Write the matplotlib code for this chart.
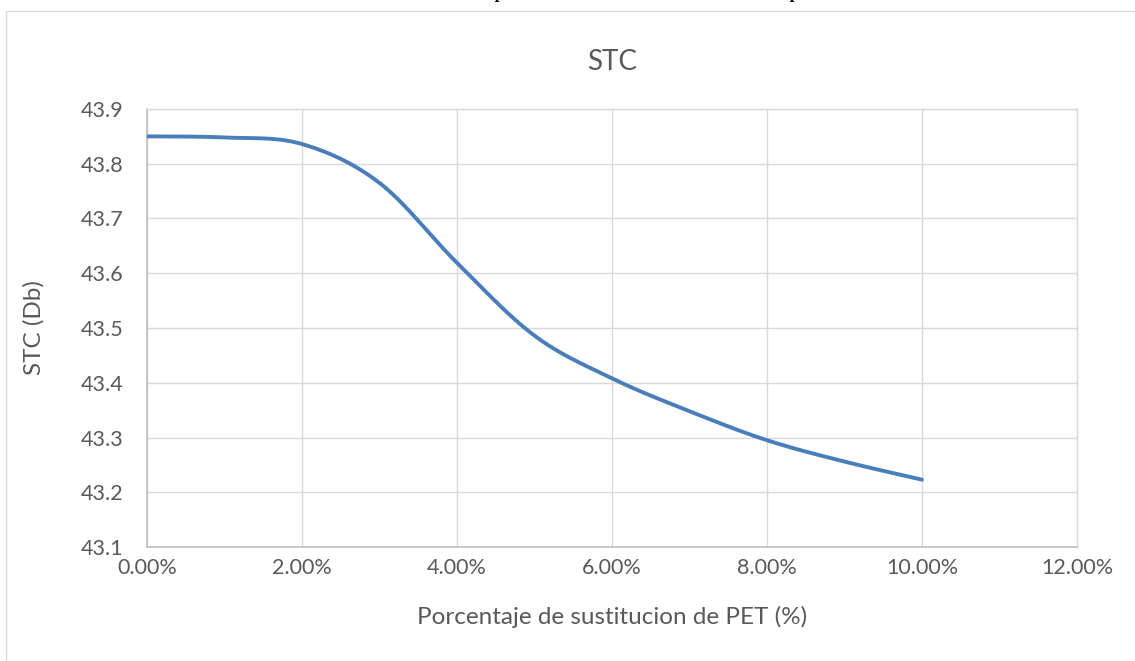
import numpy as np
import matplotlib
matplotlib.use("Agg")
import matplotlib.pyplot as plt
from matplotlib.patches import Rectangle
from matplotlib.ticker import FuncFormatter, MultipleLocator

# STC measured for each PET substitution percentage
pet_pct = [0, 1, 2, 3, 4, 5, 6, 7, 8, 9, 10]
stc_db = [43.850, 43.848, 43.836, 43.765, 43.619, 43.486, 43.408, 43.348, 43.295, 43.256, 43.223]

title = "STC"
x_label = "Porcentaje de sustitucion de PET (%)"
y_label = "STC (Db)"

TEXT = "#595959"
GRID = "#d9d9d9"
AXIS = "#bfbfbf"
LINE = "#4A7EBB"
FONT = ["Lato", "DejaVu Sans"]


def smooth_line(x, y, steps=40):
    """Bezier smoothing in the style of office chart 'smoothed lines'."""
    p = np.column_stack([x, y]).astype(float)
    n = len(p)
    out = [p[:1]]
    t = np.linspace(0, 1, steps)[1:, None]
    for i in range(n - 1):
        prev_pt = p[i - 1] if i > 0 else p[i]
        next_pt = p[i + 2] if i + 2 < n else p[i + 1]
        c1 = p[i] + (p[i + 1] - prev_pt) / 6.0
        c2 = p[i + 1] - (next_pt - p[i]) / 6.0
        seg = ((1 - t) ** 3) * p[i] + 3 * ((1 - t) ** 2) * t * c1 \
            + 3 * (1 - t) * t ** 2 * c2 + t ** 3 * p[i + 1]
        out.append(seg)
    pts = np.vstack(out)
    return pts[:, 0], pts[:, 1]


fig = plt.figure(figsize=(11.35, 6.61), dpi=100)
fig.patch.set_facecolor("white")

# chart frame, continuing past the right and bottom edges
fig.patches.append(Rectangle((6 / 1135, -0.5), 2.0, 1.5 - 10.5 / 661,
                             transform=fig.transFigure, fill=False,
                             edgecolor=GRID, linewidth=1.0))

# caption fragments running above the figure
fig.text(500 / 1135, 1 + 1.5 / 661, "p", fontsize=13, family="Liberation Serif",
         style="italic", weight="bold", ha="center", va="baseline", color="black")
fig.text(795 / 1135, 1 + 1.5 / 661, "p", fontsize=13, family="Liberation Serif",
         style="italic", weight="bold", ha="center", va="baseline", color="black")

ax = fig.add_axes([147 / 1135, 1 - 547 / 661, (1077 - 147) / 1135, (547 - 109) / 661])

xs, ys = smooth_line(pet_pct, stc_db)
ax.plot(np.array(xs) / 100.0, ys, color=LINE, linewidth=2.8,
        solid_capstyle="round", zorder=3)

ax.set_xlim(0, 0.12)
ax.set_ylim(43.1, 43.9)
ax.xaxis.set_major_locator(MultipleLocator(0.02))
ax.yaxis.set_major_locator(MultipleLocator(0.1))
ax.xaxis.set_major_formatter(FuncFormatter(lambda v, _: f"{v * 100:.2f}%"))
ax.yaxis.set_major_formatter(FuncFormatter(lambda v, _: f"{v:.1f}"))

ax.grid(True, color=GRID, linewidth=1.0, zorder=0)
ax.set_axisbelow(True)
for side in ("top", "right"):
    ax.spines[side].set_color(GRID)
    ax.spines[side].set_linewidth(1.0)
for side in ("left", "bottom"):
    ax.spines[side].set_color(AXIS)
    ax.spines[side].set_linewidth(1.2)

ax.tick_params(axis="both", length=0, labelsize=15.5, labelcolor=TEXT)
ax.tick_params(axis="y", pad=17)
ax.tick_params(axis="x", pad=8)
for lab in ax.get_xticklabels() + ax.get_yticklabels():
    lab.set_family(FONT)

ax.set_title(title, fontsize=20, color=TEXT, family=FONT, pad=28)
ax.set_xlabel(x_label, fontsize=17.5, color=TEXT, family=FONT, labelpad=20)
ax.set_ylabel(y_label, fontsize=17.5, color=TEXT, family=FONT, labelpad=26)

fig.savefig("out.png", dpi=100, facecolor="white")
